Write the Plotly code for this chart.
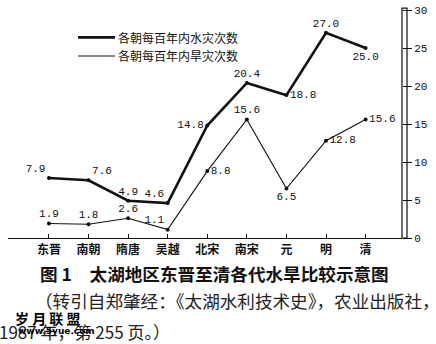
import plotly.graph_objects as go

dynasties = ["东晋", "南朝", "隋唐", "吴越", "北宋", "南宋", "元", "明", "清"]
flood = [7.9, 7.6, 4.9, 4.6, 14.8, 20.4, 18.8, 27.0, 25.0]
drought = [1.9, 1.8, 2.6, 1.1, 8.8, 15.6, 6.5, 12.8, 15.6]
flood_pos = ["top left", "top right", "top center", "top left", "middle left",
             "top center", "middle right", "top center", "bottom center"]
drought_pos = ["top center", "top center", "top center", "top left", "middle right",
               "top center", "bottom center", "middle right", "middle right"]
y_ticks = [0, 5, 10, 15, 20, 25, 30]
legend_names = ["各朝每百年内水灾次数", "各朝每百年内旱灾次数"]
title = "图 1　太湖地区东晋至清各代水旱比较示意图"
note1 = "（转引自郑肇经：《太湖水利技术史》，农业出版社，"
note2 = "1987 年，第 255 页。）"

W, H = 436, 344
L, R, T, B = 8, 34, 5, 106
xs = list(range(len(dynasties)))

numfont = dict(family="Liberation Mono, DejaVu Sans Mono, monospace", size=11, color="#111")
cjk = "Noto Sans CJK SC"

fig = go.Figure()
fig.add_trace(go.Scatter(
    x=xs, y=flood, mode="lines+markers+text",
    line=dict(color="#111", width=2.6), marker=dict(size=4, color="#111"),
    text=[f"{v:.1f}" for v in flood], textposition=flood_pos,
    textfont=numfont, cliponaxis=False, showlegend=False))
fig.add_trace(go.Scatter(
    x=xs, y=drought, mode="lines+markers+text",
    line=dict(color="#111", width=1.1), marker=dict(size=4, color="#111"),
    text=[f"{v:.1f}" for v in drought], textposition=drought_pos,
    textfont=numfont, cliponaxis=False, showlegend=False))

pw = W - L - R
ph = H - T - B
fig.update_layout(
    width=W, height=H, margin=dict(l=L, r=R, t=T, b=B),
    paper_bgcolor="white", plot_bgcolor="white",
    xaxis=dict(range=[-1.035, 8.92], tickmode="array", tickvals=xs,
               ticktext=["<b>" + d + "</b>" for d in dynasties],
               showgrid=False, zeroline=False,
               showline=True, linecolor="#111", linewidth=1.2,
               ticks="inside", ticklen=4, tickcolor="#111",
               tickfont=dict(family=cjk, size=12, color="#111")),
    yaxis=dict(range=[0, 30], side="right", tickvals=y_ticks,
               showgrid=False, zeroline=False, showline=False,
               ticks="outside", ticklen=9, tickcolor="#111",
               ticklabeloverflow="allow",
               tickfont=dict(family="Liberation Mono, monospace", size=11, color="#111")),
    showlegend=False,
)

def px_x(px):
    return (px - L) / pw

def px_y(py):
    return 1 - (py - T) / ph

# right axis drawn as a narrow bar
fig.add_shape(type="rect", xref="paper", yref="paper",
              x0=1.0, x1=1.0 + 5 / pw, y0=0, y1=px_y(3),
              line=dict(color="#111", width=1.2), fillcolor="white", layer="below")

# legend
for i, (name, w) in enumerate(zip(legend_names, [2.6, 1.1])):
    yy = 33 + 19 * i
    fig.add_shape(type="line", xref="paper", yref="paper",
                  x0=px_x(78), x1=px_x(115), y0=px_y(yy), y1=px_y(yy),
                  line=dict(color="#111", width=w))
    fig.add_annotation(xref="paper", yref="paper", x=px_x(116), y=px_y(yy),
                       text=name, showarrow=False, xanchor="left", yanchor="middle",
                       font=dict(family=cjk, size=12, color="#111"))

fig.add_annotation(xref="paper", yref="paper", x=px_x(38), y=px_y(274),
                   text="<b>" + title + "</b>", showarrow=False, xanchor="left",
                   yanchor="middle", font=dict(family=cjk, size=17.6, color="#111"))
fig.add_annotation(xref="paper", yref="paper", x=px_x(33), y=px_y(302),
                   text=note1, showarrow=False, xanchor="left", yanchor="middle",
                   font=dict(family=cjk, size=17.6, color="#222"))
fig.add_annotation(xref="paper", yref="paper", x=px_x(-3), y=px_y(334),
                   text=note2, showarrow=False, xanchor="left", yanchor="middle",
                   font=dict(family=cjk, size=17, color="#222"))
fig.add_annotation(xref="paper", yref="paper", x=px_x(13), y=px_y(320),
                   text="<b>岁 月 联 盟</b>", showarrow=False, xanchor="left", yanchor="middle",
                   font=dict(family=cjk, size=14, color="#000"))
fig.add_annotation(xref="paper", yref="paper", x=px_x(16), y=px_y(333),
                   text="<b>www.5yue.com</b>", showarrow=False, xanchor="left", yanchor="middle",
                   font=dict(family="DejaVu Sans", size=9, color="#000"))

fig.write_html("out.html")
